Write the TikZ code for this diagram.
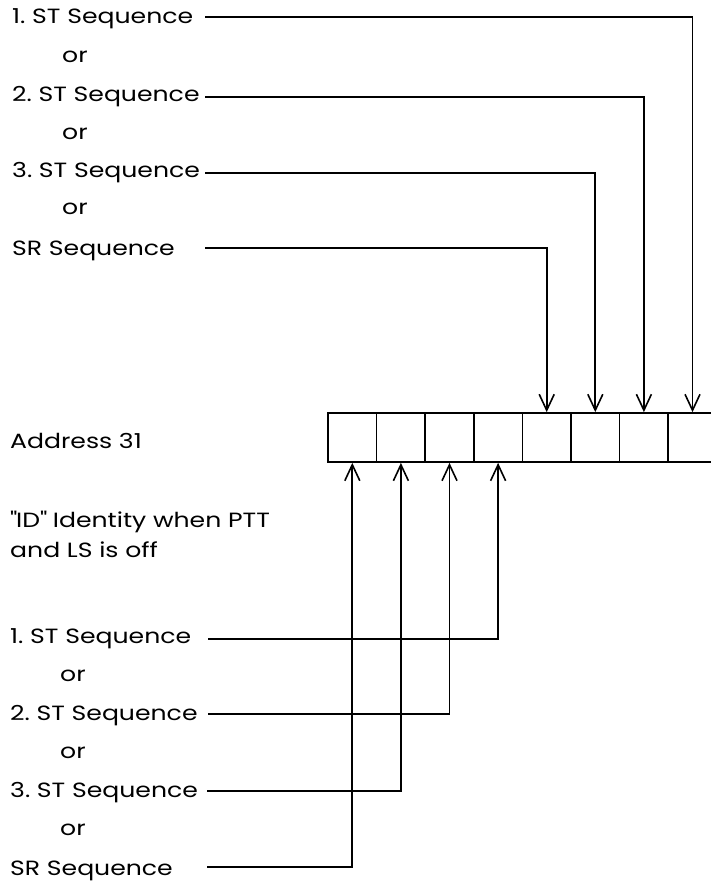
\documentclass[tikz,border=0pt]{standalone}
\usepackage{fontspec}
\setmainfont[FakeStretch=1.22]{Poppins}
\usetikzlibrary{arrows.meta}
\begin{document}
\begin{tikzpicture}[x=1pt,y=-1pt,
  lbl/.style={anchor=base west,inner sep=0pt,font=\fontsize{20.6}{25}\selectfont},
  cell/.style={draw,line width=1.7pt,minimum width=48.6pt,minimum height=49pt,inner sep=0pt},
  conn/.style={line width=1.7pt,-{Straight Barb[length=16pt,width=15pt,line width=1.6pt]}}]
\useasboundingbox (0,0) rectangle (710,882);
% register cells
\foreach \i in {1,...,8}{
  \node[cell] (c\i) at ({328+48.6*(\i-1)+24.3},437.5) {};
}
% top labels
\node[lbl] (t1) at (12,24) {1.\ ST Sequence};
\node[lbl] (to1) at (62,63) {or};
\node[lbl] (t2) at (12,102) {2.\ ST Sequence};
\node[lbl] (to2) at (62,140) {or};
\node[lbl] (t3) at (12,178) {3.\ ST Sequence};
\node[lbl] (to3) at (62,215) {or};
\node[lbl] (t4) at (12,255) {SR Sequence};
% middle labels
\node[lbl] (addr) at (10,448) {Address 31};
\node[lbl] (id1) at (10,527) {\textquotedbl ID\textquotedbl\ Identity when PTT};
\node[lbl] (id2) at (10,557) {and LS is off};
% bottom labels
\node[lbl] (b1) at (10,643) {1.\ ST Sequence};
\node[lbl] (bo1) at (60,681) {or};
\node[lbl] (b2) at (10,720) {2.\ ST Sequence};
\node[lbl] (bo2) at (60,758) {or};
\node[lbl] (b3) at (10,797) {3.\ ST Sequence};
\node[lbl] (bo3) at (60,835) {or};
\node[lbl] (b4) at (10,875) {SR Sequence};
% line start coordinates
\coordinate (ts1) at (205,17);
\coordinate (ts2) at (205,97);
\coordinate (ts3) at (205,173);
\coordinate (ts4) at (205,248);
\coordinate (bs1) at (208,639);
\coordinate (bs2) at (208,714);
\coordinate (bs3) at (207,791);
\coordinate (bs4) at (207,867);
% connectors
\draw[conn] (ts1) -| (c8.north);
\draw[conn] (ts2) -| (c7.north);
\draw[conn] (ts3) -| (c6.north);
\draw[conn] (ts4) -| (c5.north);
\draw[conn] (bs1) -| (c4.south);
\draw[conn] (bs2) -| (c3.south);
\draw[conn] (bs3) -| (c2.south);
\draw[conn] (bs4) -| (c1.south);
\end{tikzpicture}
\end{document}
